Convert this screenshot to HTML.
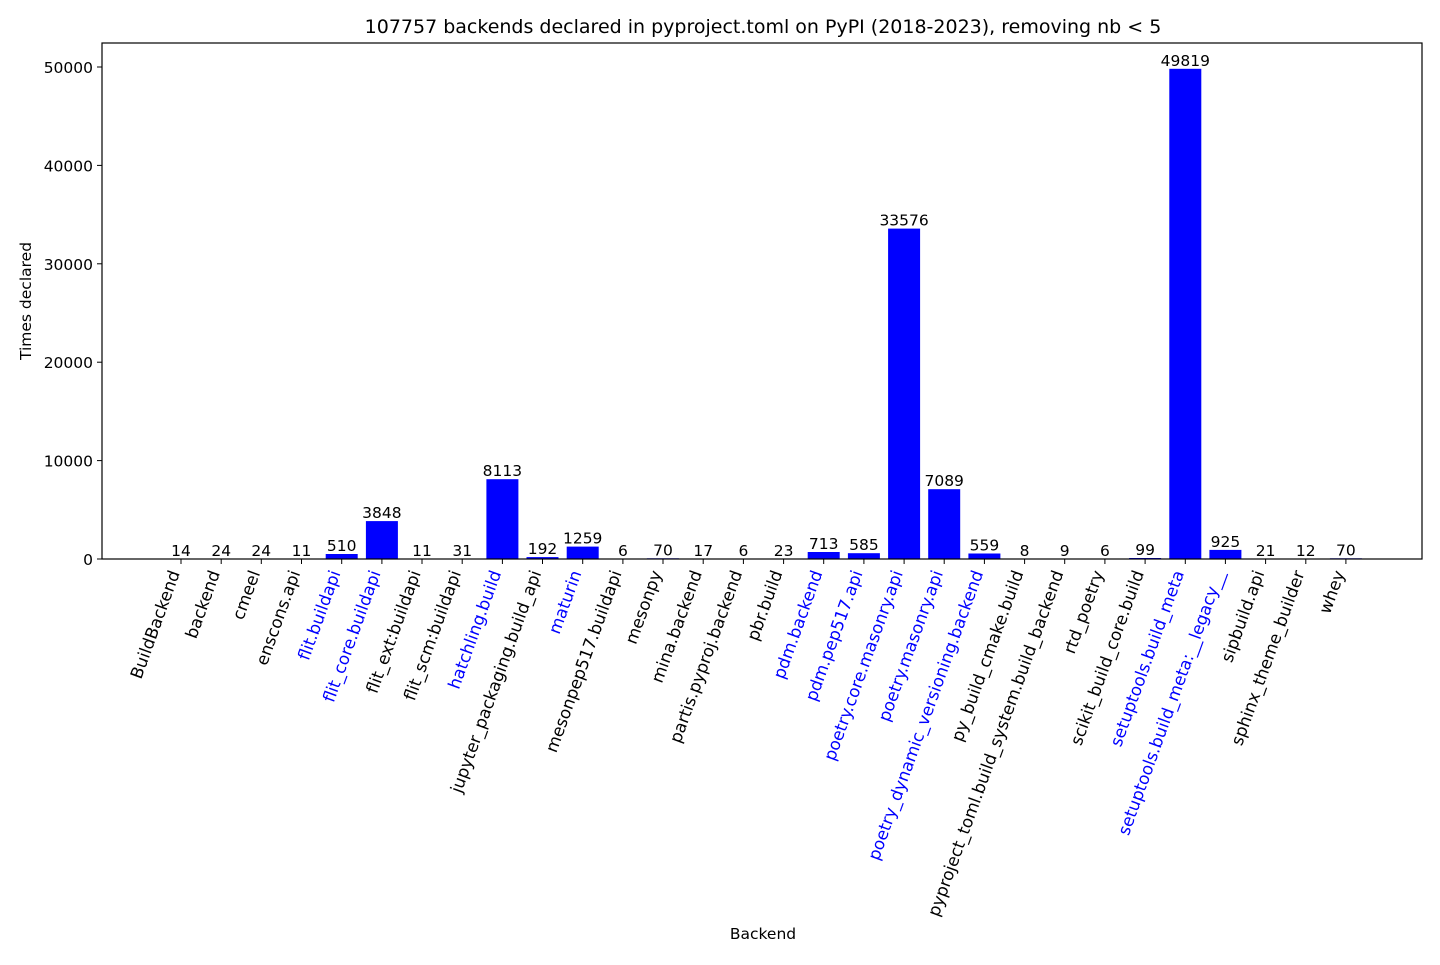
<!DOCTYPE html>
<html><head><meta charset="utf-8"><style>
html,body{margin:0;padding:0;background:#fff;}
svg text{font-family:"DejaVu Sans","Liberation Sans",sans-serif;}
</style></head><body>
<svg width="1440" height="960" viewBox="0 0 1440 960" xmlns="http://www.w3.org/2000/svg">
<rect width="1440" height="960" fill="#fff"/>
<text x="763" y="33" font-size="19" text-anchor="middle">107757 backends declared in pyproject.toml on PyPI (2018-2023), removing nb &lt; 5</text>
<g fill="#0000ff">
<rect x="165" y="558.9" width="32" height="0.1"/>
<rect x="205.2" y="558.8" width="32" height="0.2"/>
<rect x="245.3" y="558.8" width="32" height="0.2"/>
<rect x="285.5" y="558.9" width="32" height="0.1"/>
<rect x="325.7" y="554" width="32" height="5"/>
<rect x="365.9" y="521.1" width="32" height="37.9"/>
<rect x="406" y="558.9" width="32" height="0.1"/>
<rect x="446.2" y="558.7" width="32" height="0.3"/>
<rect x="486.4" y="479.2" width="32" height="79.8"/>
<rect x="526.5" y="557.1" width="32" height="1.9"/>
<rect x="566.7" y="546.6" width="32" height="12.4"/>
<rect x="646.9" y="558.3" width="32" height="0.7"/>
<rect x="767.6" y="558.8" width="32" height="0.2"/>
<rect x="807.7" y="552" width="32" height="7"/>
<rect x="847.9" y="553.2" width="32" height="5.8"/>
<rect x="888.1" y="228.6" width="32" height="330.4"/>
<rect x="928.2" y="489.2" width="32" height="69.8"/>
<rect x="968.4" y="553.5" width="32" height="5.5"/>
<rect x="1129.1" y="558" width="32" height="1"/>
<rect x="1169.3" y="68.8" width="32" height="490.2"/>
<rect x="1209.4" y="549.9" width="32" height="9.1"/>
<rect x="1249.6" y="558.8" width="32" height="0.2"/>
<rect x="1329.9" y="558.3" width="32" height="0.7"/>
</g>
<rect x="102" y="43" width="1320" height="516" fill="none" stroke="#000" stroke-width="1.2"/>
<g stroke="#000" stroke-width="1">
<line x1="97" y1="559" x2="102" y2="559"/><line x1="97" y1="460.6" x2="102" y2="460.6"/><line x1="97" y1="362.2" x2="102" y2="362.2"/><line x1="97" y1="263.8" x2="102" y2="263.8"/><line x1="97" y1="165.4" x2="102" y2="165.4"/><line x1="97" y1="67" x2="102" y2="67"/>
</g>
<g font-size="15.5" text-anchor="end">
<text x="93" y="565">0</text><text x="93" y="466.6">10000</text><text x="93" y="368.2">20000</text><text x="93" y="269.8">30000</text><text x="93" y="171.4">40000</text><text x="93" y="73">50000</text>
</g>
<text transform="translate(31,301) rotate(-90)" font-size="15.5" text-anchor="middle">Times declared</text>
<text x="763" y="939" font-size="15.5" text-anchor="middle">Backend</text>
<g font-size="15.5" text-anchor="middle">
<text x="181" y="556">14</text><text x="221.2" y="556">24</text><text x="261.3" y="556">24</text><text x="301.5" y="556">11</text><text x="341.7" y="551">510</text><text x="381.9" y="518">3848</text><text x="422" y="556">11</text><text x="462.2" y="556">31</text><text x="502.4" y="476">8113</text><text x="542.5" y="554">192</text><text x="582.7" y="543.6">1259</text><text x="622.9" y="556">6</text><text x="663" y="555.3">70</text><text x="703.2" y="556">17</text><text x="743.4" y="556">6</text><text x="783.6" y="556">23</text><text x="823.7" y="549">713</text><text x="863.9" y="550.2">585</text><text x="904.1" y="225.6">33576</text><text x="944.2" y="486.2">7089</text><text x="984.4" y="550.5">559</text><text x="1024.6" y="556">8</text><text x="1064.7" y="556">9</text><text x="1104.9" y="556">6</text><text x="1145.1" y="555">99</text><text x="1185.3" y="65.8">49819</text><text x="1225.4" y="546.9">925</text><text x="1265.6" y="556">21</text><text x="1305.8" y="556">12</text><text x="1345.9" y="555.3">70</text>
</g>
<g stroke="#000" stroke-width="1">
<line x1="181" y1="559" x2="181" y2="564"/><line x1="221.2" y1="559" x2="221.2" y2="564"/><line x1="261.3" y1="559" x2="261.3" y2="564"/><line x1="301.5" y1="559" x2="301.5" y2="564"/><line x1="341.7" y1="559" x2="341.7" y2="564"/><line x1="381.9" y1="559" x2="381.9" y2="564"/><line x1="422" y1="559" x2="422" y2="564"/><line x1="462.2" y1="559" x2="462.2" y2="564"/><line x1="502.4" y1="559" x2="502.4" y2="564"/><line x1="542.5" y1="559" x2="542.5" y2="564"/><line x1="582.7" y1="559" x2="582.7" y2="564"/><line x1="622.9" y1="559" x2="622.9" y2="564"/><line x1="663" y1="559" x2="663" y2="564"/><line x1="703.2" y1="559" x2="703.2" y2="564"/><line x1="743.4" y1="559" x2="743.4" y2="564"/><line x1="783.6" y1="559" x2="783.6" y2="564"/><line x1="823.7" y1="559" x2="823.7" y2="564"/><line x1="863.9" y1="559" x2="863.9" y2="564"/><line x1="904.1" y1="559" x2="904.1" y2="564"/><line x1="944.2" y1="559" x2="944.2" y2="564"/><line x1="984.4" y1="559" x2="984.4" y2="564"/><line x1="1024.6" y1="559" x2="1024.6" y2="564"/><line x1="1064.7" y1="559" x2="1064.7" y2="564"/><line x1="1104.9" y1="559" x2="1104.9" y2="564"/><line x1="1145.1" y1="559" x2="1145.1" y2="564"/><line x1="1185.3" y1="559" x2="1185.3" y2="564"/><line x1="1225.4" y1="559" x2="1225.4" y2="564"/><line x1="1265.6" y1="559" x2="1265.6" y2="564"/><line x1="1305.8" y1="559" x2="1305.8" y2="564"/><line x1="1345.9" y1="559" x2="1345.9" y2="564"/>
</g>
<g font-size="16.8" text-anchor="end">
<text transform="translate(180,573) rotate(-70)">BuildBackend</text>
<text transform="translate(220.2,573) rotate(-70)">backend</text>
<text transform="translate(260.3,573) rotate(-70)">cmeel</text>
<text transform="translate(300.5,573) rotate(-70)">enscons.api</text>
<text transform="translate(340.7,573) rotate(-70)" fill="#0000ff">flit.buildapi</text>
<text transform="translate(380.9,573) rotate(-70)" fill="#0000ff">flit_core.buildapi</text>
<text transform="translate(421,573) rotate(-70)">flit_ext:buildapi</text>
<text transform="translate(461.2,573) rotate(-70)">flit_scm:buildapi</text>
<text transform="translate(501.4,573) rotate(-70)" fill="#0000ff">hatchling.build</text>
<text transform="translate(541.5,573) rotate(-70)">jupyter_packaging.build_api</text>
<text transform="translate(581.7,573) rotate(-70)" fill="#0000ff">maturin</text>
<text transform="translate(621.9,573) rotate(-70)">mesonpep517.buildapi</text>
<text transform="translate(662,573) rotate(-70)">mesonpy</text>
<text transform="translate(702.2,573) rotate(-70)">mina.backend</text>
<text transform="translate(742.4,573) rotate(-70)">partis.pyproj.backend</text>
<text transform="translate(782.6,573) rotate(-70)">pbr.build</text>
<text transform="translate(822.7,573) rotate(-70)" fill="#0000ff">pdm.backend</text>
<text transform="translate(862.9,573) rotate(-70)" fill="#0000ff">pdm.pep517.api</text>
<text transform="translate(903.1,573) rotate(-70)" fill="#0000ff">poetry.core.masonry.api</text>
<text transform="translate(943.2,573) rotate(-70)" fill="#0000ff">poetry.masonry.api</text>
<text transform="translate(983.4,573) rotate(-70)" fill="#0000ff">poetry_dynamic_versioning.backend</text>
<text transform="translate(1023.6,573) rotate(-70)">py_build_cmake.build</text>
<text transform="translate(1063.7,573) rotate(-70)">pyproject_toml.build_system.build_backend</text>
<text transform="translate(1103.9,573) rotate(-70)">rtd_poetry</text>
<text transform="translate(1144.1,573) rotate(-70)">scikit_build_core.build</text>
<text transform="translate(1184.3,573) rotate(-70)" fill="#0000ff">setuptools.build_meta</text>
<text transform="translate(1224.4,573) rotate(-70)" fill="#0000ff">setuptools.build_meta:__legacy__</text>
<text transform="translate(1264.6,573) rotate(-70)">sipbuild.api</text>
<text transform="translate(1304.8,573) rotate(-70)">sphinx_theme_builder</text>
<text transform="translate(1344.9,573) rotate(-70)">whey</text>
</g>
</svg>
</body></html>
